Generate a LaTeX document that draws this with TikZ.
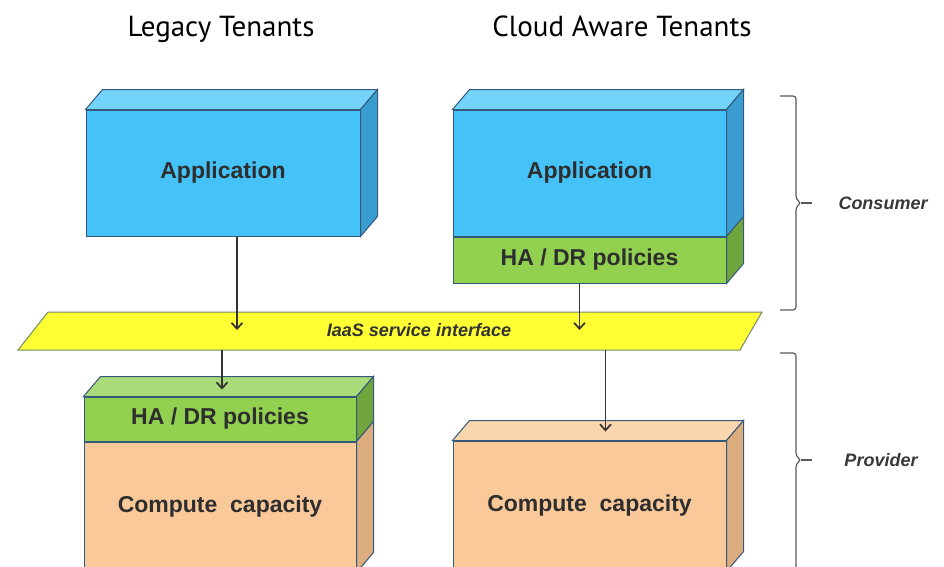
\documentclass[tikz,border=0pt]{standalone}
\usepackage{fontspec}
\newfontfamily\titlefont{PT Sans}
\newfontfamily\labelfont{Liberation Sans}
\usetikzlibrary{calc, arrows.meta}

\definecolor{appblue}{HTML}{45C3F8}
\definecolor{appbluetop}{HTML}{74D3FA}
\definecolor{appblueside}{HTML}{3A9DCF}
\definecolor{hagreen}{HTML}{92D050}
\definecolor{hagreentop}{HTML}{A9DB7A}
\definecolor{hagreenside}{HTML}{6FA53C}
\definecolor{peach}{HTML}{FAC99A}
\definecolor{peachtop}{HTML}{FBD5AE}
\definecolor{peachside}{HTML}{DBAC7E}
\definecolor{iaasyellow}{HTML}{FFFF33}
\definecolor{edge}{HTML}{34597A}
\definecolor{bandedge}{HTML}{6E8C6A}

\tikzset{
  face/.style={draw=edge, line width=1pt, inner sep=0pt,
    font=\labelfont\bfseries\fontsize{23}{26}\selectfont, text=black!82},
  flow/.style={draw=black!80, line width=1.7pt, -{Straight Barb[length=6pt,width=11pt]}},
  bracket/.style={draw=black!65, line width=1.2pt, rounded corners=3pt},
  side label/.style={font=\labelfont\bfseries\itshape\fontsize{18}{21}\selectfont, text=black!78},
  title/.style={font=\titlefont\fontsize{29}{34}\selectfont, anchor=base},
}

% 3d faces of a box node: top face and right side face
\newcommand{\topface}[2]{%
  \filldraw[draw=edge, line width=1pt, fill=#2] (#1.north west) -- ++(17,-20)
    -- ($(#1.north east)+(17,-20)$) -- (#1.north east) -- cycle;}
\newcommand{\sideface}[2]{%
  \filldraw[draw=edge, line width=1pt, fill=#2] (#1.north east) -- ++(17,-20)
    -- ($(#1.south east)+(17,-20)$) -- (#1.south east) -- cycle;}

\begin{document}
\begin{tikzpicture}[x=1pt, y=-1pt]
\useasboundingbox (0,0) rectangle (944,566);
\clip (0,0) rectangle (944,566);

% titles
\node[title] (legacyTitle) at (221,36) {Legacy Tenants};
\node[title] (cloudTitle) at (622,36) {Cloud Aware Tenants};

% consumer side
\node[face, fill=appblue, minimum width=274pt, minimum height=126pt] (legacyApp) at (223,173) {Application};
\node[face, fill=appblue, minimum width=273pt, minimum height=126pt] (cloudApp) at (589.5,173) {Application};
\node[face, fill=hagreen, minimum width=273pt, minimum height=46pt, anchor=north] (cloudHA) at (cloudApp.south) {HA / DR policies};
\topface{legacyApp}{appbluetop}
\sideface{legacyApp}{appblueside}
\topface{cloudApp}{appbluetop}
\sideface{cloudApp}{appblueside}
\sideface{cloudHA}{hagreenside}

% provider side
\node[face, fill=hagreen, minimum width=272pt, minimum height=44pt] (legacyHA) at (220,419) {HA / DR policies};
\node[face, fill=peach, minimum width=272pt, minimum height=130pt, anchor=north] (legacyCompute) at (legacyHA.south) {Compute\ \ capacity};
\node[face, fill=peach, minimum width=273pt, minimum height=130pt] (cloudCompute) at (589.5,506) {Compute\ \ capacity};
\topface{legacyHA}{hagreentop}
\sideface{legacyHA}{hagreenside}
\sideface{legacyCompute}{peachside}
\topface{cloudCompute}{peachtop}
\sideface{cloudCompute}{peachside}

% service interface band
\filldraw[draw=bandedge, fill=iaasyellow, line width=1pt] (18,350) -- (48,312) -- (762,312) -- (740,350) -- cycle;
\node[font=\labelfont\bfseries\itshape\fontsize{18}{21}\selectfont, text=black!80] (iaas) at (419,330) {IaaS service interface};
\coordinate (iaasBase) at (419,350);

% connectors
\draw[flow] ([xshift=14pt]legacyApp.south) -- ([xshift=14pt]legacyApp.south |- iaas);
\draw[flow] ([xshift=-10pt]cloudHA.south) -- ([xshift=-10pt]cloudHA.south |- iaas);
\draw[flow] ([xshift=2pt]iaasBase -| legacyHA) -- ([xshift=2pt, yshift=7pt]legacyHA.north);
\draw[flow] ([xshift=16pt]iaasBase -| cloudCompute) -- ([xshift=16pt, yshift=9pt]cloudCompute.north);

% brackets
\draw[bracket] (780,96) -- (796,96) -- (796,199) -- (801,203) -- (796,207) -- (796,310) -- (780,310);
\draw[bracket] (801,203) -- (812,203);
\node[side label] (consumer) at (883,203) {Consumer};
\draw[bracket] (780,353) -- (796,353) -- (796,456) -- (801,460) -- (796,464) -- (796,590);
\draw[bracket] (801,460) -- (812,460);
\node[side label] (provider) at (881,460) {Provider};
\end{tikzpicture}
\end{document}
